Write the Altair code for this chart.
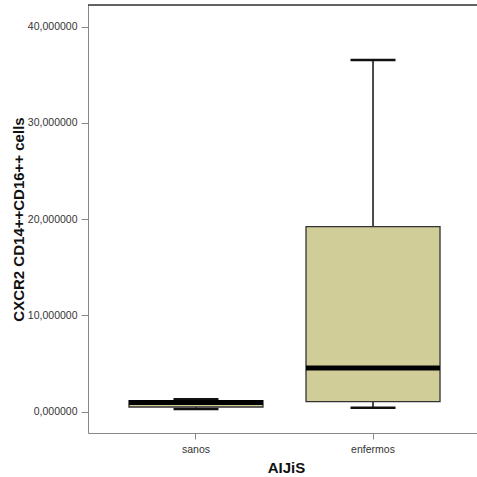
import altair as alt
import pandas as pd

groups = ["sanos", "enfermos"]
lower_whisker = [0.26, 0.40]
q1 = [0.47, 1.02]
median = [0.94, 4.52]
q3 = [1.14, 19.21]
upper_whisker = [1.27, 36.54]

df = pd.DataFrame({
    "g": groups,
    "lo": lower_whisker,
    "q1": q1,
    "med": median,
    "q3": q3,
    "hi": upper_whisker,
})

FONT = "Liberation Sans"
W, H = 389, 428

xscale = alt.Scale(domain=groups, range=[0, 393], paddingInner=0.243, paddingOuter=0.2315)
yscale = alt.Scale(domain=[-2.235, 42.26], nice=False, zero=False)

xenc = alt.X("g:N", scale=xscale, sort=groups,
             axis=alt.Axis(title="AIJiS", labelAngle=0, tickSize=6, labelPadding=5,
                           labelFont=FONT, labelFontSize=10.5, labelColor="#333",
                           titleFont=FONT, titleFontSize=15, titleFontWeight="bold", titleColor="#111",
                           titleX=198, titleY=34, titleBaseline="middle", titleAlign="center"))
yaxis = alt.Axis(title="CXCR2 CD14++CD16++ cells", values=[0, 10, 20, 30, 40],
                 labelExpr="replace(format(datum.value, '.6f'), '.', ',')",
                 tickSize=7, labelPadding=4, grid=False,
                 labelFont=FONT, labelFontSize=10.5, labelColor="#333",
                 titleFont=FONT, titleFontSize=15, titleFontWeight="bold", titleColor="#111",
                 titleX=-70, titleY=214, titleBaseline="middle", titleAlign="center")

base = alt.Chart(df)

whisk = base.mark_rule(color="#111", strokeWidth=1.5).encode(
    x=xenc,
    y=alt.Y("lo:Q", scale=yscale, axis=yaxis),
    y2="hi:Q",
)
caps_hi = base.mark_tick(color="#111", size=45, thickness=2.5, opacity=1).encode(
    x=alt.X("g:N", scale=xscale, sort=groups), y=alt.Y("hi:Q", scale=yscale))
caps_lo = base.mark_tick(color="#111", size=45, thickness=2.5, opacity=1).encode(
    x=alt.X("g:N", scale=xscale, sort=groups), y=alt.Y("lo:Q", scale=yscale))
box = base.mark_bar(color="#D1CD98", stroke="#333", strokeWidth=1.3, opacity=1).encode(
    x=alt.X("g:N", scale=xscale, sort=groups), y=alt.Y("q1:Q", scale=yscale), y2="q3:Q")
med = base.mark_tick(color="#000", size=134, thickness=5, opacity=1).encode(
    x=alt.X("g:N", scale=xscale, sort=groups), y=alt.Y("med:Q", scale=yscale))

top = alt.Chart(pd.DataFrame({"a": [0]})).mark_rule(color="#333", strokeWidth=1.5).encode(
    x=alt.value(0), x2=alt.value(W), y=alt.value(0))

chart = alt.layer(whisk, caps_hi, caps_lo, box, med, top).properties(
    width=W, height=H,
    autosize=alt.AutoSizeParams(type="none"),
    padding={"left": 88, "top": 5, "right": 0, "bottom": 44},
).configure_view(stroke=None).configure_axis(
    domainColor="#333", domainWidth=1.5, tickColor="#333", tickWidth=1.2,
).configure(background="white")

chart.save("out.html", embed_options={"renderer": "svg", "actions": False})
